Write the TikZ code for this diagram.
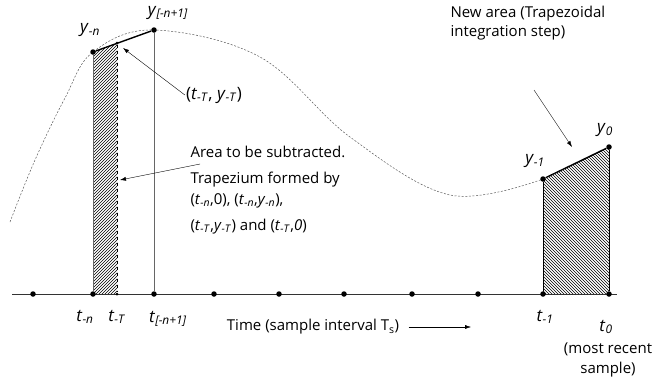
\documentclass[tikz,border=0pt]{standalone}
\usepackage{fontspec}
\setmainfont{Open Sans}
\usetikzlibrary{positioning,arrows.meta,patterns,calc}
\newcommand{\vy}[1]{\textit{y}\textsubscript{\textit{#1}}}
\newcommand{\vt}[1]{\textit{t}\textsubscript{\textit{#1}}}

\begin{document}
\begin{tikzpicture}[x=1pt,y=-1pt,>={Latex[length=6pt,width=4pt]},font=\fontsize{15}{21}\selectfont,
  dot/.style={circle,fill,inner sep=0pt,minimum size=5.5pt},
  smalldot/.style={circle,fill,inner sep=0pt,minimum size=3pt},
  big/.style={font=\fontsize{17}{19}\selectfont,inner sep=1pt},
  note/.style={font=\fontsize{15}{19.5}\selectfont}]
\useasboundingbox (0,0) rectangle (654,381);

% hatched areas
\fill[pattern=north east lines] (93,294) -- (93,52) -- (117,43) -- (117,294) -- cycle;
\fill[pattern=north west lines] (543,294) -- (543,179) -- (609,147) -- (609,294) -- cycle;

% time axis and samples
\draw[black!80] (12,294) -- (617,294);
\foreach \x in {33,214,279,344,412,478} \node[dot] at (\x,294) {};
\node[dot] (tn) at (93,294) {};
\node[smalldot] (tT) at (117,294) {};
\node[dot] (tn1) at (154,294) {};
\node[dot] (tm1) at (543,294) {};
\node[dot] (t0) at (609,294) {};

% signal
\draw[gray!70!black,dash pattern=on 2pt off 1.6pt,line width=0.5pt] plot[smooth,tension=0.6] coordinates
  {(10,222) (35,160) (65,98) (93,52) (154,30) (260,57) (350,137) (450,195) (543,179)};

\node[dot] (yn) at (93,52) {};
\node[smalldot] (yT) at (117,43) {};
\node[dot] (yn1) at (154,30) {};
\node[dot] (ym1) at (543,179) {};
\node[dot] (y0) at (609,147) {};

\draw[gray!80!black] (yn) -- (tn);
\draw[gray!80!black] (yn1) -- (tn1);
\draw[dashed,thick] (yT) -- (tT);
\draw[line width=1.4pt] (yn) -- (yn1);
\draw (ym1) -- (tm1);
\draw (y0) -- (t0);
\draw[line width=1.4pt] (ym1) -- (y0);

% labels
\node[big] (lyn) at (90,30) {\vy{-n}};
\node[big] (lyn1) at (168,13) {\vy{[-n+1]}};
\node[big] (lyT) at (214,95) {(\vt{-T}, \vy{-T})};
\node[big] (lym1) at (535,161) {\vy{-1}};
\node[big] (ly0) at (605,130) {\vy{0}};
\node[big] (ltn) at (85,317) {\vt{-n}};
\node[big] (ltT) at (117,317) {\vt{-T}};
\node[big] (ltn1) at (168,319) {\vt{[-n+1]}};
\node[big] (ltm1) at (545,317) {\vt{-1}};
\node[big] (lt0) at (606,327) {\vt{0}};
\node[note,align=center] (recent) at (608,360) {(most recent\\sample)};
\node (time) at (313,327) {Time (sample interval T\textsubscript{s})};
\node[note,anchor=west,align=left] (newarea) at (447,23) {New area (Trapezoidal\\integration step)};
\node[anchor=west] (sub) at (187,152) {Area to be subtracted.};
\node[anchor=north west,align=left] (trap) at (187,168)
  {Trapezium formed by\\(\vt{-n},0), (\vt{-n},\vy{-n}),\\[5pt](\vt{-T},\vy{-T}) and (\vt{-T},\textit{0})};

% pointers
\coordinate (yTtip) at (123,48);
\coordinate (subtail) at (200,164);
\coordinate (subtip) at (120,180);
\coordinate (newtail) at (534,90);
\coordinate (newtip) at (572,147);
\coordinate (timetip) at (471,327);
\draw[->] (lyT.west) -- (yTtip);
\draw[->] (subtail) -- (subtip);
\draw[->] (newtail) -- (newtip);
\draw[->,shorten <=6pt] (time.east) -- (timetip);
\end{tikzpicture}
\end{document}
